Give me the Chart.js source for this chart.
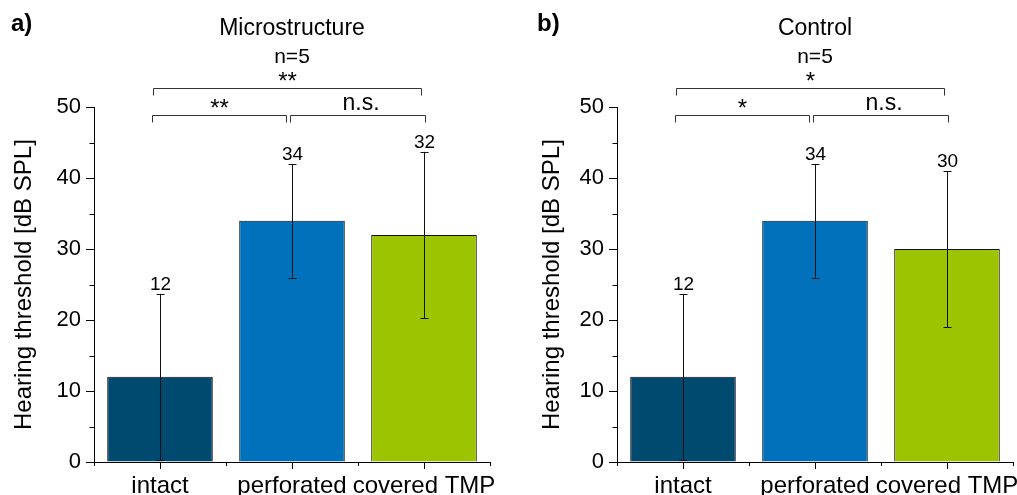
<!DOCTYPE html>
<html>
<head>
<meta charset="utf-8">
<script src="https://cdn.jsdelivr.net/npm/chart.js@4/dist/chart.umd.min.js"></script>
<style>
  html, body { margin: 0; padding: 0; background: #fff; }
  #wrap { position: relative; width: 1017px; height: 495px; overflow: hidden; }
  canvas { position: absolute; top: 0; }
  #panelA { left: 0; }
  #panelB { left: 510px; }
</style>
</head>
<body>
<div id="wrap">
  <canvas id="panelA" width="510" height="495"></canvas>
  <canvas id="panelB" width="507" height="495"></canvas>
</div>
<script>
// Groups on the x axis
const categories = ['intact', 'perforated', 'covered TMP'];

// Mean hearing thresholds [dB SPL] and their error bars
const microMeans = [12, 34, 32];
const microErrors = [11.7, 8, 11.7];
const controlMeans = [12, 34, 30];
const controlErrors = [11.7, 8, 11];

// Value axis range and labelled steps
const yMin = 0;
const yMax = 50;
const yStep = 10;
const yMinorTicks = [5, 15, 25, 35, 45];

// Pairwise comparisons: [from group, to group, level, label]
const microComparisons = [[0, 1, 0, '**'], [1, 2, 0, 'n.s.'], [0, 2, 1, '**']];
const controlComparisons = [[0, 1, 0, '*'], [1, 2, 0, 'n.s.'], [0, 2, 1, '*']];

const barColors = ['#00496F', '#0071BA', '#9DC400'];

const FONT = "'Liberation Sans', Arial, sans-serif";
Chart.defaults.font.family = FONT;
Chart.defaults.color = '#000';

function inkCenteredText(ctx, text, x, yCenter) {
  const m = ctx.measureText(text);
  const base = yCenter + (m.actualBoundingBoxAscent - m.actualBoundingBoxDescent) / 2;
  ctx.fillText(text, x, base);
}

// Error bars, value labels, minor ticks, comparison brackets and panel letter
const annotations = {
  id: 'annotations',
  afterDatasetsDraw(chart, args, opts) {
    const { ctx } = chart;
    const x = chart.scales.x, y = chart.scales.y;
    const values = chart.data.datasets[0].data;
    ctx.save();
    values.forEach((v, i) => {
      const cx = Math.round(x.getPixelForValue(i)) + 0.5;
      const yTop = y.getPixelForValue(v + opts.errors[i]);
      const yBot = y.getPixelForValue(v - opts.errors[i]);
      ctx.strokeStyle = '#111';
      ctx.lineWidth = 1;
      ctx.beginPath();
      ctx.moveTo(cx, yTop); ctx.lineTo(cx, yBot);
      ctx.moveTo(cx - 4, Math.round(yTop) + 0.5); ctx.lineTo(cx + 4, Math.round(yTop) + 0.5);
      ctx.moveTo(cx - 4, Math.round(yBot) + 0.5); ctx.lineTo(cx + 4, Math.round(yBot) + 0.5);
      ctx.stroke();
      ctx.fillStyle = '#000';
      ctx.font = '19px ' + FONT;
      ctx.textAlign = 'center';
      ctx.textBaseline = 'alphabetic';
      ctx.fillText(String(v), cx, yTop - 4);
    });
    ctx.restore();
  },
  afterDraw(chart, args, opts) {
    const { ctx } = chart;
    const x = chart.scales.x, y = chart.scales.y;
    ctx.save();
    ctx.strokeStyle = '#000';
    ctx.lineWidth = 1;
    // minor ticks on the value axis
    const ax = Math.round(chart.chartArea.left) + 0.5;
    ctx.beginPath();
    yMinorTicks.forEach(t => {
      const py = Math.round(y.getPixelForValue(t)) + 0.5;
      ctx.moveTo(ax, py); ctx.lineTo(ax - 5, py);
    });
    // minor ticks between groups
    const by = Math.round(chart.chartArea.bottom);
    for (let k = -0.5; k <= categories.length - 0.5; k += 1) {
      const px = Math.round(x.getPixelForValue(k)) + 0.5;
      ctx.moveTo(px, by); ctx.lineTo(px, by + 4);
    }
    ctx.stroke();

    // comparison brackets
    const levels = [Math.round(chart.chartArea.top) + 8.5, Math.round(chart.chartArea.top) - 18.5];
    const ends = { lowL: [-8, -6], lowR: [-2, 1], up: [-7, -3] };
    ctx.strokeStyle = '#333';
    opts.comparisons.forEach(([a, b, level, label]) => {
      let off;
      if (level === 1) off = ends.up; else off = a === 0 ? ends.lowL : ends.lowR;
      const x1 = Math.round(x.getPixelForValue(a) + off[0]) + 0.5;
      const x2 = Math.round(x.getPixelForValue(b) + off[1]) + 0.5;
      const ly = levels[level];
      ctx.beginPath();
      ctx.moveTo(x1, ly + 7); ctx.lineTo(x1, ly); ctx.lineTo(x2, ly); ctx.lineTo(x2, ly + 7);
      ctx.stroke();
      ctx.fillStyle = '#000';
      ctx.textAlign = 'center';
      ctx.textBaseline = 'alphabetic';
      const isStars = label.indexOf('*') === 0;
      ctx.font = (isStars ? '24px ' : '23px ') + FONT;
      inkCenteredText(ctx, label, (x1 + x2) / 2 + (isStars ? 0 : 3), ly - 12.5);
    });

    // panel letter
    ctx.fillStyle = '#000';
    ctx.font = 'bold 24px ' + FONT;
    ctx.textAlign = 'left';
    inkCenteredText(ctx, opts.letter, opts.letterX, 24);
    ctx.restore();
  }
};

function makePanel(canvasId, title, means, errors, comparisons, letter, letterX, axisWidth, rightPad, titlePad) {
  return new Chart(document.getElementById(canvasId), {
    type: 'bar',
    data: {
      labels: categories,
      datasets: [{
        data: means,
        backgroundColor: barColors,
        borderColor: '#111',
        borderWidth: 1,
        categoryPercentage: 1,
        barPercentage: 0.8
      }]
    },
    plugins: [annotations],
    options: {
      responsive: false,
      animation: false,
      devicePixelRatio: 1,
      layout: { padding: { left: 0, right: rightPad, top: 0, bottom: 0 } },
      plugins: {
        legend: { display: false },
        tooltip: { enabled: false },
        title: {
          display: true, text: title, fullSize: false, color: '#000',
          font: { size: 23, weight: 'normal' }, padding: { top: 15, bottom: 0 }
        },
        subtitle: {
          display: true, text: 'n=5', fullSize: false, color: '#000',
          font: { size: 21 }, padding: { top: 1.6, bottom: 37.8 }
        },
        annotations: { errors: errors, comparisons: comparisons, letter: letter, letterX: letterX }
      },
      scales: {
        x: {
          offset: true,
          grid: { offset: false, drawOnChartArea: false, drawTicks: true, tickLength: 7, color: '#000' },
          border: { display: true, color: '#000', width: 1 },
          ticks: { font: { size: 24 }, color: '#000', padding: 3, maxRotation: 0, autoSkip: false },
          afterFit(scale) {
            scale.height = 33;
            scale.paddingLeft = 0;
            scale.paddingRight = 0;
          }
        },
        y: {
          min: yMin, max: yMax,
          grid: { drawOnChartArea: false, drawTicks: true, tickLength: 8, color: '#000' },
          border: { display: true, color: '#000', width: 1 },
          ticks: { stepSize: yStep, font: { size: 22 }, color: '#000', padding: 5 },
          title: {
            display: true, text: 'Hearing threshold [dB SPL]', color: '#000',
            font: { size: 24 }, padding: { top: titlePad, bottom: 0 }
          },
          afterFit(scale) { scale.width = axisWidth; }
        }
      }
    }
  });
}

makePanel('panelA', 'Microstructure', microMeans, microErrors, microComparisons, 'a)', 11, 94, 20, 9.6);
makePanel('panelB', 'Control', controlMeans, controlErrors, controlComparisons, 'b)', 27, 107, 4, 27.6);
</script>
</body>
</html>
